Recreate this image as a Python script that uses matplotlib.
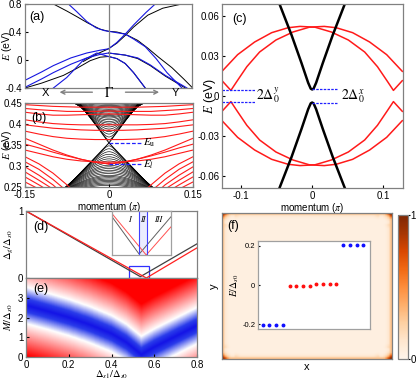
import numpy as np
import matplotlib
matplotlib.use('Agg')
import matplotlib.pyplot as plt
from matplotlib.colors import LinearSegmentedColormap

plt.rcParams['font.family'] = ['Liberation Sans', 'DejaVu Sans']
plt.rcParams['mathtext.fontset'] = 'stix'
plt.rcParams['font.size'] = 7
plt.rcParams['xtick.direction'] = 'in'
plt.rcParams['ytick.direction'] = 'in'
plt.rcParams['xtick.major.size'] = 2
plt.rcParams['ytick.major.size'] = 2
plt.rcParams['xtick.major.pad'] = 2
plt.rcParams['ytick.major.pad'] = 2
plt.rcParams['axes.edgecolor'] = '#808080'
plt.rcParams['axes.linewidth'] = 0.9

# ---------------- data ----------------
# (a) bands along X - Gamma - Y  (x: -1 = X, 0 = Gamma, 1 = Y), energy in eV
a_blackA_k = [-0.66, -0.5, -0.38, -0.25, -0.1, 0.0, 0.1, 0.2, 0.35, 0.47, 0.6, 0.76, 0.9, 1.0]
a_blackA_E = [0.80, 0.70, 0.62, 0.53, 0.44, 0.41, 0.40, 0.37, 0.28, 0.17, 0.04, -0.11, -0.27, -0.39]
a_blackB_k = [-1.0, -0.8, -0.54, -0.38, -0.22, -0.1, 0.0, 0.1, 0.2, 0.3, 0.44]
a_blackB_E = [-0.40, -0.33, -0.22, -0.12, -0.01, 0.04, 0.05, 0.02, -0.05, -0.18, -0.40]
a_blackC_k = [-0.3, -0.15, 0.0, 0.1, 0.2, 0.3, 0.47, 0.65, 0.88]
a_blackC_E = [-0.02, 0.08, 0.16, 0.24, 0.35, 0.47, 0.64, 0.74, 0.80]
a_blackD_k = [0.0, 0.2, 0.35, 0.5, 0.68, 0.92]
a_blackD_E = [0.10, 0.07, 0.02, -0.08, -0.23, -0.40]

a_blue1_k = [-0.48, -0.38, -0.26, -0.15, -0.05, 0.0, 0.1, 0.2, 0.3, 0.44, 0.57, 0.70, 0.88]
a_blue1_E = [0.80, 0.69, 0.55, 0.46, 0.42, 0.41, 0.39, 0.37, 0.30, 0.19, 0.02, -0.18, -0.40]
a_blue2_k = [-1.0, -0.8, -0.66, -0.45, -0.26, -0.1, 0.0, 0.1, 0.2, 0.3, 0.45, 0.56]
a_blue2_E = [-0.29, -0.17, -0.08, 0.03, 0.10, 0.14, 0.16, 0.25, 0.37, 0.50, 0.68, 0.80]
a_blue3_k = [-1.0, -0.8, -0.66, -0.45, -0.26, -0.1, 0.0, 0.2, 0.35, 0.5, 0.68, 0.94]
a_blue3_E = [-0.39, -0.27, -0.18, -0.06, 0.03, 0.08, 0.10, 0.07, 0.03, -0.07, -0.22, -0.40]
a_blue4_k = [-0.66, -0.5, -0.3, -0.14, 0.0, 0.1, 0.2, 0.3, 0.44]
a_blue4_E = [-0.40, -0.25, 0.00, 0.10, 0.05, 0.02, -0.05, -0.18, -0.40]

# (b) slab subbands: black cone around E_u, red subbands (left half, mirrored)
b_Eu = 0.355
b_El = 0.305
b_up_vertex = [0.362, 0.369, 0.376, 0.382, 0.388, 0.393, 0.398, 0.402, 0.406, 0.410,
               0.414, 0.417, 0.420, 0.423, 0.426, 0.429, 0.432, 0.435, 0.438, 0.441,
               0.444, 0.447]
b_dn_vertex = [0.348, 0.341, 0.334, 0.328, 0.322, 0.317, 0.312, 0.307, 0.302, 0.298,
               0.294, 0.290, 0.286, 0.282, 0.278, 0.275, 0.272, 0.269, 0.266, 0.263,
               0.260, 0.257, 0.254]
b_up_slope = (1.8, 0.6)     # cone velocity (eV per pi) of first / last subband
b_dn_slope = (1.4, 0.8)
b_k_red = [-0.15, -0.125, -0.1, -0.075, -0.05, -0.025, 0.0]
b_red = [
    [0.446, 0.444, 0.442, 0.441, 0.440, 0.440, 0.440],
    [0.437, 0.434, 0.432, 0.430, 0.430, 0.430, 0.431],
    [0.428, 0.424, 0.421, 0.421, 0.422, 0.423, 0.424],
    [0.410, 0.405, 0.401, 0.399, 0.398, 0.398, 0.398],
    [0.398, 0.394, 0.390, 0.388, 0.386, 0.385, 0.385],
    [0.383, 0.376, 0.370, 0.366, 0.364, 0.363, 0.363],
    [0.366, 0.352, 0.338, 0.326, 0.316, 0.309, 0.305],
    [0.352, 0.343, 0.333, 0.324, 0.316, 0.309, 0.305],
    [0.338, 0.330, 0.322, 0.316, 0.312, 0.310, 0.309],
    [0.322, 0.305, 0.283, 0.255, 0.225, np.nan, np.nan],
    [0.310, 0.292, 0.268, 0.240, np.nan, np.nan, np.nan],
    [0.298, 0.278, 0.255, 0.225, np.nan, np.nan, np.nan],
    [0.286, 0.266, 0.245, np.nan, np.nan, np.nan, np.nan],
    [0.274, 0.255, 0.235, np.nan, np.nan, np.nan, np.nan],
    [0.262, 0.245, np.nan, np.nan, np.nan, np.nan, np.nan],
]

# (c) zoom near E = 0
c_black_k = [-0.046, -0.029, -0.015, -0.0056, -0.002, 0.0, 0.002, 0.0056, 0.015, 0.029, 0.046]
c_black_E = [0.069, 0.0457, 0.0247, 0.0099, 0.0055, 0.0049, 0.0055, 0.0099, 0.0247, 0.0457, 0.069]
c_red_k = [-0.127, -0.105, -0.081, -0.057, -0.034, -0.017, 0.004, 0.027, 0.051, 0.074,
           0.092, 0.106, 0.1145, 0.121, 0.127]
c_red_E = [0.0185, 0.031, 0.0405, 0.0475, 0.0512, 0.0522, 0.0516, 0.048, 0.042, 0.033,
           0.022, 0.011, 0.0042, 0.008, 0.0115]
c_gap_y = 0.0042
c_gap_x = 0.0049

# (d) gap vs Delta_s1
d_black_x = [0.0, 0.535, 0.8]
d_black_y = [1.0, 0.02, 0.51]
d_red_x = [0.0, 0.563, 0.8]
d_red_y = [1.0, 0.0, 0.45]
d_ins_black_x = [0.0, 0.46, 1.0]
d_ins_black_y = [0.87, 0.02, 0.87]
d_ins_red_x = [0.0, 0.58, 1.0]
d_ins_red_y = [0.94, 0.0, 0.64]

# (e) position of the blue valley (gap closing) in the (Delta_s1, M) plane
e_valley_x = [0.0, 0.1, 0.2, 0.3, 0.4, 0.47, 0.54, 0.6, 0.7, 0.8]
e_valley_M = [2.65, 2.35, 2.03, 1.65, 1.2, 0.75, 0.12, 0.5, 1.05, 1.6]

# (f) LDOS edge profile (cells from the boundary) and eigenvalues of the inset
f_edge_profile = [0.30, 0.12, 0.07, 0.05]
f_corner_profile = [1.0, 0.75, 0.45, 0.25, 0.12, 0.05]
f_interior = 0.045
f_E_blue_lo = [-0.202, -0.202, -0.202, -0.202]
f_E_red = [-0.003, -0.003, -0.003, -0.003, 0.003, 0.003, 0.003, 0.003]
f_E_blue_hi = [0.202, 0.202, 0.202, 0.202]

W, H = 416, 380
fig = plt.figure(figsize=(W / 100, H / 100), dpi=100)


def box(x0, y0, x1, y1):
    return [x0 / W, 1 - y1 / H, (x1 - x0) / W, (y1 - y0) / H]


def ylabel_at(ax, text, px, size):
    # y label centred on a fixed pixel column, like the reference
    pos = ax.get_position()
    ax.set_ylabel(text, fontsize=size, va='center')
    ax.yaxis.set_label_coords((px / W - pos.x0) / pos.width, 0.5)


serif = dict(family='STIXGeneral')

# ---------------- (a) ----------------
axa = fig.add_axes(box(25, 4, 192, 88))
for k, E in [(a_blackA_k, a_blackA_E), (a_blackB_k, a_blackB_E),
             (a_blackC_k, a_blackC_E), (a_blackD_k, a_blackD_E)]:
    axa.plot(k, E, color='black', lw=0.7)
for k, E in [(a_blue1_k, a_blue1_E), (a_blue2_k, a_blue2_E),
             (a_blue3_k, a_blue3_E), (a_blue4_k, a_blue4_E)]:
    axa.plot(k, E, color='#1515e0', lw=0.8)
axa.axvline(0, color='#808080', lw=0.9)
axa.set_xlim(-1, 1)
axa.set_ylim(-0.4, 0.8)
axa.set_yticks([-0.4, 0, 0.4, 0.8])
axa.set_yticklabels(['-0.4', '0', '0.4', '0.8'])
axa.set_xticks([])
ylabel_at(axa, r'$E$ (eV)', 7, 7.5)
axa.text(0.025, 0.84, '(a)', transform=axa.transAxes, fontsize=9, va='center')
tr = axa.get_xaxis_transform()
axa.text(-0.76, -0.055, 'X', transform=tr, ha='center', va='center', fontsize=8)
axa.text(0.0, -0.055, r'$\Gamma$', transform=tr, ha='center', va='center', fontsize=10)
axa.text(0.80, -0.055, 'Y', transform=tr, ha='center', va='center', fontsize=8)
axa.annotate('', xy=(-0.62, -0.05), xytext=(-0.16, -0.05), xycoords=tr,
             arrowprops=dict(arrowstyle='->', color='#808080', lw=1.0))
axa.annotate('', xy=(0.64, -0.05), xytext=(0.17, -0.05), xycoords=tr,
             arrowprops=dict(arrowstyle='->', color='#808080', lw=1.0))

# ---------------- (b) ----------------
axb = fig.add_axes(box(25, 103, 193, 187))
kk = np.linspace(-0.15, 0.15, 301)
for i, v in enumerate(b_up_vertex):
    s = b_up_slope[0] + (b_up_slope[1] - b_up_slope[0]) * i / (len(b_up_vertex) - 1)
    axb.plot(kk, b_Eu + np.sqrt((v - b_Eu) ** 2 + (s * kk) ** 2), color='black', lw=0.45)
for i, v in enumerate(b_dn_vertex):
    s = b_dn_slope[0] + (b_dn_slope[1] - b_dn_slope[0]) * i / (len(b_dn_vertex) - 1)
    axb.plot(kk, b_Eu - np.sqrt((b_Eu - v) ** 2 + (s * kk) ** 2), color='black', lw=0.45)
axb.plot([-0.06, 0.0, 0.06], [b_Eu + 0.06 * 1.8, b_Eu, b_Eu + 0.06 * 1.8], color='black', lw=0.7)
axb.plot([-0.08, 0.0, 0.08], [b_Eu - 0.08 * 1.4, b_Eu, b_Eu - 0.08 * 1.4], color='black', lw=0.7)
kr = np.array(b_k_red)
for E in b_red:
    axb.plot(kr, E, color='#ff1a1a', lw=0.8)
    axb.plot(-kr, E, color='#ff1a1a', lw=0.8)
axb.plot([0, 0.058], [b_Eu, b_Eu], color='#2020ff', lw=0.9, ls=(0, (3, 1.5)))
axb.plot([0, 0.058], [b_El, b_El], color='#2020ff', lw=0.9, ls=(0, (3, 1.5)))
axb.text(0.061, b_Eu, r'$E_{\rm u}$', fontsize=8, va='center')
axb.text(0.061, b_El - 0.002, r'$E_{l}$', fontsize=8, va='center')
axb.set_xlim(-0.15, 0.15)
axb.set_ylim(0.25, 0.45)
axb.set_xticks([-0.15, 0, 0.15])
axb.set_xticklabels(['-0.15', '0', '0.15'])
axb.set_yticks([0.25, 0.3, 0.35, 0.4, 0.45])
axb.set_yticklabels(['0.25', '0.3', '0.35', '0.4', '0.45'])
ylabel_at(axb, r'$E$ (eV)', 7, 7.5)
axb.set_xlabel(r'momentum ($\pi$)', fontsize=7, labelpad=0)
axb.text(0.04, 0.82, '(b)', transform=axb.transAxes, fontsize=9, va='center')

# ---------------- (c) ----------------
axc = fig.add_axes(box(222, 4, 403, 188))
ck = np.array(c_red_k)
cE = np.array(c_red_E)
for sgn in (1, -1):
    axc.plot(ck, sgn * cE, color='#ff1a1a', lw=1.1)
    axc.plot(-ck, sgn * cE, color='#ff1a1a', lw=1.1)
    axc.plot(c_black_k, sgn * np.array(c_black_E), color='black', lw=1.8)
for sgn in (1, -1):
    axc.plot([-0.127, -0.081], [sgn * c_gap_y] * 2, color='#2020ff', lw=0.9, ls=(0, (2, 1)))
    axc.plot([0.0, 0.037], [sgn * c_gap_x] * 2, color='#2020ff', lw=0.9, ls=(0, (2, 1)))
axc.text(-0.079, 0.0, r'$2\Delta_0^y$', fontsize=10, va='center')
axc.text(0.040, 0.0, r'$2\Delta_0^x$', fontsize=10, va='center')
axc.set_xlim(-0.127, 0.128)
axc.set_ylim(-0.069, 0.069)
axc.set_xticks([-0.1, 0, 0.1])
axc.set_xticklabels(['-0.1', '0', '0.1'])
axc.set_yticks([-0.06, -0.03, 0, 0.03, 0.06])
axc.set_yticklabels(['-0.06', '-0.03', '0', '0.03', '0.06'])
ylabel_at(axc, r'$E$ (eV)', 210, 9)
axc.set_xlabel(r'momentum ($\pi$)', fontsize=7, labelpad=0)
axc.text(0.055, 0.92, '(c)', transform=axc.transAxes, fontsize=9, va='center')

# ---------------- (d) ----------------
axd = fig.add_axes(box(26, 211, 197, 278))
axd.plot(d_black_x, d_black_y, color='#404040', lw=0.9)
axd.plot(d_red_x, d_red_y, color='#ff2020', lw=0.9)
axd.add_patch(plt.Rectangle((0.483, 0.0), 0.094, 0.18, fill=False, ec='#3030ff', lw=0.9))
axd.set_xlim(0, 0.8)
axd.set_ylim(0, 1)
axd.set_yticks([0, 1])
axd.set_xticks([])
ylabel_at(axd, r'$\Delta_g/\Delta_{s0}$', 9, 7.5)
axd.text(0.04, 0.76, '(d)', transform=axd.transAxes, fontsize=9, va='center')

axdi = fig.add_axes(box(112, 211, 171, 255))
axdi.plot(d_ins_black_x, d_ins_black_y, color='#606060', lw=0.7)
axdi.plot(d_ins_red_x, d_ins_red_y, color='#ff5050', lw=0.7)
axdi.axvspan(0.465, 0.585, color='#d8dcff', alpha=0.5, lw=0)
axdi.axvline(0.465, color='#4040ff', lw=0.8)
axdi.axvline(0.585, color='#4040ff', lw=0.8)
for xx, lab in [(0.29, 'I'), (0.525, 'II'), (0.79, 'III')]:
    axdi.text(xx, 0.8, lab, fontsize=6, ha='center', va='center', style='italic', **serif)
axdi.set_xlim(0, 1)
axdi.set_ylim(0, 1)
axdi.set_xticks([])
axdi.set_yticks([])
for sp in axdi.spines.values():
    sp.set_color('#a0a0a0')

# ---------------- (e) ----------------
axe = fig.add_axes(box(26, 278, 197, 357))
xs = np.linspace(0, 0.8, 320)
ms = np.linspace(0, 4.05, 200)
X, M = np.meshgrid(xs, ms)
dist = np.abs(M - np.interp(X, e_valley_x, e_valley_M))
cm_e = LinearSegmentedColormap.from_list(
    'bwr_gap', [(0.0, '#1414e6'), (0.13, '#2a3cea'), (0.36, '#ffffff'), (1.0, '#ff0000')])
axe.imshow(dist, origin='lower', extent=[0, 0.8, 0, 4.05], aspect='auto', cmap=cm_e,
           vmin=0, vmax=2.6)
axe.set_xlim(0, 0.8)
axe.set_ylim(0, 4.05)
axe.set_xticks([0, 0.2, 0.4, 0.6, 0.8])
axe.set_xticklabels(['0', '0.2', '0.4', '0.6', '0.8'])
axe.set_yticks([0, 1, 2, 3])
ylabel_at(axe, r'$M/\Delta_{s0}$', 9, 7.5)
axe.set_xlabel(r'$\Delta_{s1}/\Delta_{s0}$', fontsize=7.5, labelpad=-1)
axe.text(0.04, 0.86, '(e)', transform=axe.transAxes, fontsize=9, va='center')

# ---------------- (f) ----------------
axf = fig.add_axes(box(222, 213, 392, 359))
n = 80
ldos = np.full((n, n), f_interior)
for i, v in enumerate(f_edge_profile):
    ldos[i, :] = np.maximum(ldos[i, :], v)
    ldos[-1 - i, :] = np.maximum(ldos[-1 - i, :], v)
    ldos[:, i] = np.maximum(ldos[:, i], v)
    ldos[:, -1 - i] = np.maximum(ldos[:, -1 - i], v)
for i, v in enumerate(f_corner_profile):
    for j, w in enumerate(f_corner_profile):
        val = v * w * 0.9 + 0.1 * max(v, w)
        for (r, c) in [(i, j), (i, -1 - j), (-1 - i, j), (-1 - i, -1 - j)]:
            ldos[r, c] = max(ldos[r, c], val * (1.0 if min(i, j) == 0 else 0.7))
for i, v in enumerate(f_corner_profile):
    for L in range(len(f_corner_profile), 12):
        fade = v * 0.5 * (12 - L) / 12
        for (r, c) in [(i, L), (i, -1 - L), (-1 - i, L), (-1 - i, -1 - L),
                       (L, i), (-1 - L, i), (L, -1 - i), (-1 - L, -1 - i)]:
            ldos[r, c] = max(ldos[r, c], fade)
im = axf.imshow(ldos, cmap='Oranges', vmin=0, vmax=1, aspect='auto',
                extent=[0, 1, 0, 1], interpolation='bilinear')
axf.set_xticks([])
axf.set_yticks([])
axf.set_xlabel('x', fontsize=8, labelpad=2)
axf.set_ylabel('y', fontsize=8, labelpad=2)
axf.text(0.03, 0.91, '(f)', transform=axf.transAxes, fontsize=9, va='center')

cax = fig.add_axes(box(398, 215, 408, 359))
cb = fig.colorbar(im, cax=cax, ticks=[0, 1])
cb.ax.tick_params(direction='out', length=1.5, labelsize=7, pad=0.5)
cb.outline.set_edgecolor('#808080')

axfi = fig.add_axes(box(258, 241, 370, 329))
idx = np.arange(1, 17)
axfi.plot(idx[:4], f_E_blue_lo, 'o', color='#1010ff', ms=1.8)
axfi.plot(idx[4:12], f_E_red, 'o', color='#ff1010', ms=1.8)
axfi.plot(idx[12:], f_E_blue_hi, 'o', color='#1010ff', ms=1.8)
axfi.set_xlim(0.3, 17)
axfi.set_ylim(-0.225, 0.225)
axfi.set_xticks([])
axfi.set_yticks([-0.2, 0, 0.2])
axfi.set_yticklabels(['-0.2', '0', '0.2'])
axfi.tick_params(labelsize=5.5, length=1.5)
axfi.set_ylabel(r'$E/\Delta_{s0}$', fontsize=7, labelpad=1)
for sp in axfi.spines.values():
    sp.set_color('#a0a0a0')

fig.savefig('out.png', dpi=100)
